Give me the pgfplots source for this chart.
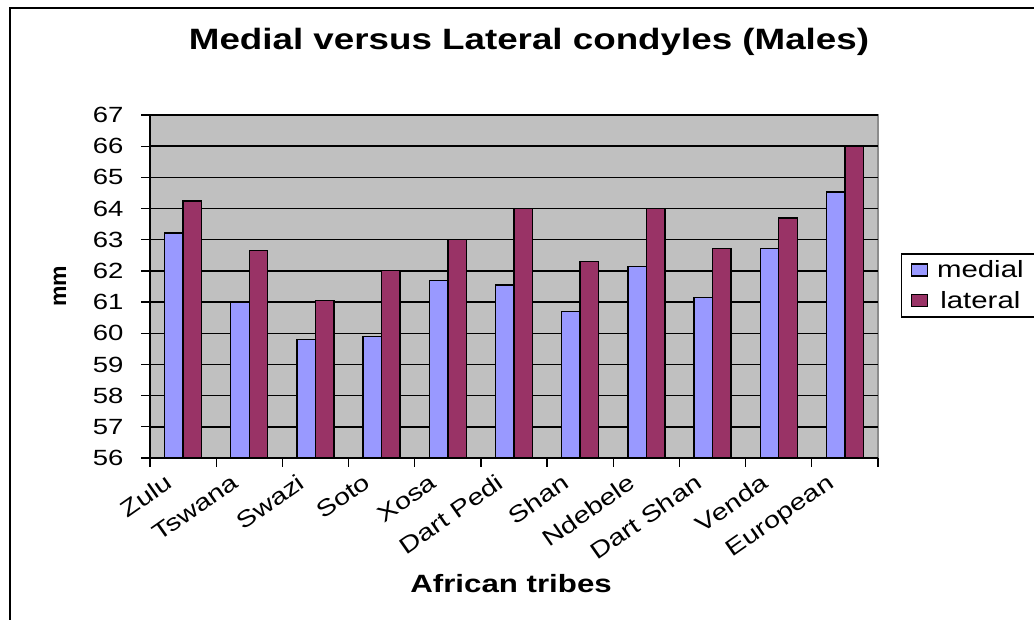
\documentclass[border=0pt]{standalone}
\usepackage{fontspec}
\setmainfont{Liberation Sans}[FakeStretch=1.25]
\newfontfamily\plainfont{Liberation Sans}
\usepackage{pgfplots}
\pgfplotsset{compat=1.18}
\definecolor{medc}{HTML}{9999FF}
\definecolor{latc}{HTML}{993366}
\definecolor{bgc}{HTML}{C0C0C0}
\begin{document}
\begin{tikzpicture}
\useasboundingbox (0pt,0pt) rectangle (1034pt,620pt);
\fill[white] (0pt,0pt) rectangle (1034pt,620pt);
\draw[line width=2pt] (10pt,0pt) -- (10pt,612pt) -- (1040pt,612pt);
\begin{axis}[
  at={(150pt,162pt)}, anchor=south west,
  scale only axis, width=728pt, height=343pt,
  xmin=-0.5, xmax=10.5, ymin=56, ymax=67,
  ytick={56,...,67},
  xtick={0,...,10},
  xticklabels={Zulu,Tswana,Swazi,Soto,Xosa,Dart Pedi,Shan,Ndebele,Dart Shan,Venda,European},
  major x tick style={draw=none},
  minor xtick={-0.5,0.5,...,10.5},
  minor tick length=9pt,
  major tick length=9pt,
  tick align=outside,
  tick style={black, line width=1.2pt},
  axis x line*=bottom, axis y line*=left,
  axis line style={black, line width=1.4pt, -},
  axis background/.style={fill=bgc, draw=gray!90, line width=1.2pt},
  ymajorgrids, grid style={black, line width=1.4pt},
  /pgf/number format/assume math mode=true,
  ticklabel style={font=\fontsize{22}{26}\selectfont},
  yticklabel style={xshift=-14pt},
  xticklabel style={xshift=-18pt, yshift=-1pt, rotate=35, anchor=north east, font=\fontsize{23}{27}\selectfont},
  title={Medial versus Lateral condyles (Males)},
  title style={at={(axis description cs:0.5206,1.172)}, anchor=base, font=\fontsize{29.4}{34}\selectfont\bfseries},
  xlabel={African tribes},
  xlabel style={at={(axis description cs:0.496,-0.3907)}, anchor=base, font=\fontsize{25}{29}\selectfont\bfseries},
  ylabel={mm},
  ylabel style={at={(axis description cs:-0.1236,0.5)}, anchor=center, font=\plainfont\fontsize{23}{27}\selectfont\bfseries},
  ybar, bar width=18.5pt,
  legend style={at={(axis description cs:1.0316,0.597)}, anchor=north west, draw=black, line width=1.4pt,
    font=\fontsize{23.5}{27}\selectfont, inner xsep=9pt, inner ysep=5pt, row sep=8pt},
  legend image code/.code={\draw[#1, line width=1.4pt] (0pt,-6pt) rectangle (16pt,6pt);},
  clip=false,
]
\addplot[fill=medc, draw=black, line width=1.4pt, bar shift=-9.25pt] coordinates {
(0,63.22) (1,61.0) (2,59.8) (3,59.9) (4,61.7) (5,61.55) (6,60.69) (7,62.15) (8,61.15) (9,62.72) (10,64.53)};
\addplot[fill=latc, draw=black, line width=1.4pt, bar shift=9.25pt] coordinates {
(0,64.24) (1,62.66) (2,61.05) (3,62.02) (4,63.0) (5,64.0) (6,62.3) (7,64.0) (8,62.72) (9,63.7) (10,66.0)};
\legend{\hspace{7pt}medial, \hspace{7pt}lateral}
\end{axis}
\end{tikzpicture}
\end{document}
